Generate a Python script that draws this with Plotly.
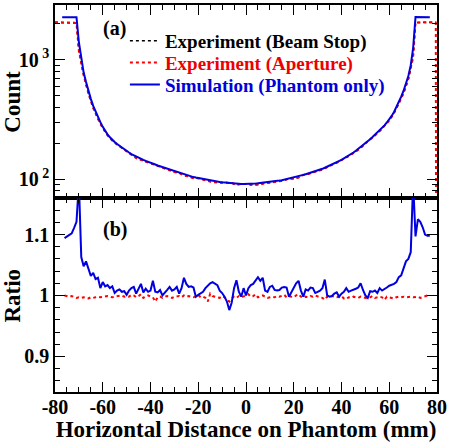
import plotly.graph_objects as go

# ---------------- data ----------------
x_mm = list(range(-77, 78))  # 1 mm grid for the simulated count profile
sim_count = [
    2270, 2270, 2275, 2270, 2268, 2272, 2270,
    1400, 1000, 780, 650, 545, 470, 410, 365, 330, 300,
    274, 253, 237, 224, 213, 205, 197, 190, 183, 177,
    172, 167, 162, 158, 154, 151, 148, 145, 142, 140,
    137.5, 135, 132.5, 130, 128, 126, 124, 122, 120, 118,
    116, 114.5, 113, 111.5, 110, 108.5, 107, 105.5, 104, 103,
    102, 101, 100, 99, 98, 97.2, 96.5, 95.8, 95.2, 94.6,
    94, 93.5, 93, 92.6, 92.2, 91.9, 91.6, 91.4, 91.2, 91.1,
    91,
    91, 91.2, 91.5, 91.8, 92.2, 92.6, 93, 93.5, 94, 94.6,
    95.2, 95.8, 96.5, 97.2, 98, 99, 100, 101, 102, 103,
    104, 105.5, 107, 108.5, 110, 111.5, 113, 114.5, 116, 118,
    120, 122, 124.5, 127, 129.5, 132, 135, 138, 141, 145,
    149, 153, 157, 162, 167, 173, 179, 186, 193, 200,
    208, 216, 225, 235, 245, 256, 268, 282, 298, 316,
    338, 365, 400, 440, 490, 550, 630, 730, 900, 1250,
    2275, 2270, 2272, 2270, 2268, 2270, 2270,
]

x_exp = [-80, -78, -76, -74, -72, -71, -70, -69, -68, -66, -64, -62, -60, -58, -56,
         -54, -52, -50, -48, -46, -44, -42, -40, -38, -36, -34, -32, -30, -28, -26,
         -24, -22, -20, -18, -16, -14, -12, -10, -8, -6, -4, -2, 0, 2, 4, 6, 8, 10,
         12, 14, 16, 18, 20, 22, 24, 26, 28, 30, 32, 34, 36, 38, 40, 42, 44, 46, 48,
         50, 52, 54, 56, 58, 60, 62, 64, 66, 68, 69, 70, 71, 72, 74, 76, 78, 79.5]
beamstop_count = [2060, 2060, 2062, 2063, 2045, 2030, 1180, 940, 744, 522, 395, 321, 268, 233, 210,
                  195, 182, 172, 160, 150.5, 145, 140, 136, 131.7, 126.9, 123.5, 118.3, 114.9, 112.7, 107.5,
                  105.5, 101.7, 101.9, 99.4, 96.9, 94.4, 94.1, 93.6, 93.9, 93.1, 89.5, 91.4, 91, 89.7, 89.6, 90.4, 92.8, 93.3,
                  94.9, 96.3, 97.6, 101.2, 100.8, 103, 108.7, 110.6, 113.1, 117.3, 120.5, 127, 132.1, 137.3, 144.6, 151.2, 160.7, 171.1, 182.4,
                  200, 214.5, 233, 253, 279, 311, 358, 427, 526, 689, 840, 1055, 2060, 2045, 2055, 2060, 2060, 2060]

x_aperture = x_exp + [79.6]
aperture_count = [2050, 2050, 2052, 2052, 2040, 2025, 1175, 937, 742, 520, 394, 320, 267, 233, 210,
                  195, 182, 172, 160, 150, 145, 140, 136, 131.5, 126.6, 123.3, 118, 114.7, 112.5, 107.3,
                  105.3, 101.5, 101.5, 99.2, 96.4, 94.2, 93.6, 93.5, 93.2, 92.9, 89.3, 91.3, 91, 89.5, 89.6, 90.2, 92.6, 93.0,
                  94.7, 96.1, 97.6, 101.0, 100.5, 102.9, 108.5, 110.3, 112.9, 117.0, 120.1, 126.4, 131.7, 136.9, 144.3, 150.6, 160.2, 170.6, 181.9,
                  199.2, 213.8, 232.2, 252.4, 277.5, 310, 356.5, 426, 524.5, 687.5, 838, 1052, 2050, 2040, 2048, 2050, 2050, 2050, 40]

x_ratio = list(range(-76, 78))
ratio_sim = [
    1.094, 1.097, 1.100, 1.102, 1.111, 1.121,
    1.185, 1.063, 1.048, 1.056, 1.044, 1.032, 1.037, 1.027, 1.029, 1.012,
    1.022, 1.015, 1.017, 1.012, 1.015, 1.004, 1.008, 1.010, 1.006, 1.007,
    1.001, 1.008, 1.012, 1.014, 1.003, 1.010, 1.019, 1.005, 1.011, 1.006,
    1.008, 1.024, 1.006, 1.005, 1.009, 1.000, 1.004, 1.009, 1.014, 1.008,
    1.010, 1.014, 1.003, 1.012, 1.029, 1.019, 1.014, 1.015, 1.013, 0.998,
    1.001, 1.004, 1.006, 1.012, 1.016, 1.020, 1.022, 1.020, 1.017, 1.008,
    1.004, 0.998, 0.990, 0.976, 0.988, 1.012, 1.025, 1.006, 0.998, 1.012,
    1.000,
    1.012, 1.017, 1.019, 1.025, 1.030, 1.024, 1.029, 1.008, 1.006, 1.014,
    1.016, 1.009, 1.008, 1.009, 1.013, 1.014, 1.013, 0.998, 1.005, 1.012,
    1.020, 1.024, 1.008, 0.998, 1.010, 1.008, 1.013, 1.012, 1.004, 1.006,
    1.008, 1.012, 1.026, 1.000, 0.998, 0.999, 1.003, 1.005, 0.998, 1.003,
    1.006, 1.012, 1.006, 1.008, 1.009, 1.011, 1.013, 1.020, 1.009, 1.000,
    0.996, 1.007, 1.006, 1.008, 1.004, 1.012, 1.008, 1.010, 1.013, 1.016,
    1.017, 1.019, 1.022, 1.030, 1.033, 1.045, 1.056, 1.060, 1.071, 1.185,
    1.097, 1.125, 1.121, 1.112, 1.100, 1.098, 1.098,
]
ratio_ap = [
    1.000, 0.999, 0.998, 0.999, 0.997, 0.996, 0.997,
    0.996, 0.997, 0.996, 0.995, 0.997, 0.996, 0.997, 0.998, 0.997, 0.998,
    0.998, 0.999, 0.998, 0.997, 0.998, 0.999, 0.999, 1.000, 0.998, 0.999,
    0.998, 1.001, 1.000, 0.997, 0.999, 1.002, 0.996, 0.998, 1.000, 0.998,
    0.997, 0.990, 0.997, 0.998, 0.996, 0.998, 0.999, 0.997, 0.996, 0.998,
    0.998, 0.999, 0.997, 1.000, 0.998, 0.999, 0.998, 0.997, 0.999, 1.001,
    0.997, 0.998, 0.996, 0.990, 1.003, 0.999, 0.998, 0.997, 0.996, 0.999,
    0.997, 0.993, 0.990, 0.995, 0.998, 0.996, 0.999, 0.997, 0.998, 1.000,
    1.002, 0.998, 0.999, 1.002, 0.997, 0.998, 1.000, 0.998, 0.996, 0.997,
    0.998, 0.997, 0.999, 0.998, 1.000, 1.001, 0.997, 0.999, 0.998, 0.997,
    1.000, 1.002, 0.998, 0.996, 0.998, 0.997, 0.999, 0.998, 1.000, 0.998,
    0.997, 0.996, 0.993, 0.998, 0.997, 0.999, 0.998, 0.997, 0.998, 0.999,
    0.995, 0.994, 0.997, 0.996, 0.998, 0.997, 0.996, 0.998, 0.997, 0.996,
    0.995, 0.997, 0.999, 0.996, 0.997, 0.998, 0.997, 0.993, 0.998, 0.997,
    0.996, 0.995, 0.997, 0.998, 0.997, 0.998, 0.997, 0.998, 0.998, 0.997,
    0.998, 0.998, 0.996, 0.997, 0.999, 1.000,
]

legend_names = ["Experiment (Beam Stop)", "Experiment (Aperture)", "Simulation (Phantom only)"]
x_tick_vals = [-80, -60, -40, -20, 0, 20, 40, 60, 80]
x_tick_text = ["-80", "-60", "-40", "-20", "0", "20", "40", "60", "80"]
count_tick_vals = [100, 1000]
count_tick_text = ["10<sup> 2</sup>", "10<sup> 3</sup>"]
ratio_tick_vals = [0.9, 1.0, 1.1]
ratio_tick_text = ["0.9", "1", "1.1"]

# ---------------- styling ----------------
BLUE = "#0000e0"
RED = "#ff0000"
FONT = "Liberation Serif"


def f(size, color="black"):
    return dict(family=FONT, size=size, color=color, weight="bold")


fig = go.Figure()
fig.add_trace(go.Scatter(x=x_exp, y=beamstop_count, mode="lines",
                         line=dict(color="black", width=1.5, dash="dot"),
                         name="<span style='color:black'>" + legend_names[0] + "</span>",
                         legend="legend", xaxis="x", yaxis="y"))
fig.add_trace(go.Scatter(x=x_aperture, y=aperture_count, mode="lines",
                         line=dict(color=RED, width=2, dash="dot"),
                         name="<span style='color:#ee0000'>" + legend_names[1] + "</span>",
                         legend="legend2", xaxis="x", yaxis="y"))
fig.add_trace(go.Scatter(x=x_mm, y=sim_count, mode="lines",
                         line=dict(color=BLUE, width=2),
                         name="<span style='color:#0000dd'>" + legend_names[2] + "</span>",
                         legend="legend3", xaxis="x", yaxis="y"))
fig.add_trace(go.Scatter(x=x_ratio[:len(ratio_ap)], y=ratio_ap, mode="lines",
                         line=dict(color=RED, width=2, dash="dot"), showlegend=False,
                         xaxis="x2", yaxis="y2"))
fig.add_trace(go.Scatter(x=x_ratio[:len(ratio_sim)], y=ratio_sim, mode="lines",
                         line=dict(color=BLUE, width=2), showlegend=False,
                         xaxis="x2", yaxis="y2"))

split = 0.5013
axis_common = dict(showline=True, linecolor="black", linewidth=1.5, mirror="allticks",
                   ticks="inside", ticklen=10, tickwidth=1, tickcolor="black",
                   showgrid=False, zeroline=False)


def leg(ypos):
    return dict(x=0.183, y=ypos, xanchor="left", yanchor="middle",
                bgcolor="rgba(0,0,0,0)", font=f(19), itemwidth=30)


fig.update_layout(
    width=450, height=442,
    margin=dict(l=55, r=12, t=3, b=50),
    paper_bgcolor="white", plot_bgcolor="white",
    font=f(20),
    xaxis=dict(domain=[0, 1], anchor="y", range=[-80, 80], tickvals=x_tick_vals,
               showticklabels=False,
               minor=dict(dtick=5, tick0=0, ticks="inside", ticklen=5, tickcolor="black"),
               **axis_common),
    yaxis=dict(domain=[split, 1], anchor="x", type="log", range=[1.842, 3.458],
               tickvals=count_tick_vals, ticktext=count_tick_text,
               tickfont=f(20),
               minor=dict(tickvals=[70, 80, 90, 200, 300, 400, 500, 600, 700, 800, 900, 2000],
                          ticks="inside", ticklen=5, tickcolor="black"),
               **axis_common),
    xaxis2=dict(domain=[0, 1], anchor="y2", range=[-80, 80], tickvals=x_tick_vals,
                ticktext=x_tick_text, tickfont=f(20), ticklabelstandoff=-4,
                minor=dict(dtick=5, tick0=0, ticks="inside", ticklen=5, tickcolor="black"),
                title=dict(text="Horizontal Distance on Phantom (mm)", font=f(23), standoff=0),
                **axis_common),
    yaxis2=dict(domain=[0, split], anchor="x2", range=[0.8415, 1.160],
                tickvals=ratio_tick_vals, ticktext=ratio_tick_text,
                tickfont=f(20),
                minor=dict(dtick=0.02, tick0=0.9, ticks="inside", ticklen=5, tickcolor="black"),
                **axis_common),
    legend=leg(0.9074),
    legend2=leg(0.8509),
    legend3=leg(0.7943),
    showlegend=True,
    annotations=[
        dict(text="(a)", x=0.157, y=0.938, xref="paper", yref="paper", showarrow=False,
             font=f(20), xanchor="center", yanchor="middle"),
        dict(text="(b)", x=0.157, y=0.419, xref="paper", yref="paper", showarrow=False,
             font=f(20), xanchor="center", yanchor="middle"),
        dict(text="Count", x=-0.11, y=0.75, xref="paper", yref="paper", showarrow=False,
             textangle=-90, font=f(23), xanchor="center", yanchor="middle"),
        dict(text="Ratio", x=-0.11, y=0.249, xref="paper", yref="paper", showarrow=False,
             textangle=-90, font=f(23), xanchor="center", yanchor="middle"),
    ],
)

fig.write_html("out.html", config={"displayModeBar": False},
               post_script="document.body.style.margin='0px';document.body.style.overflow='hidden';")
